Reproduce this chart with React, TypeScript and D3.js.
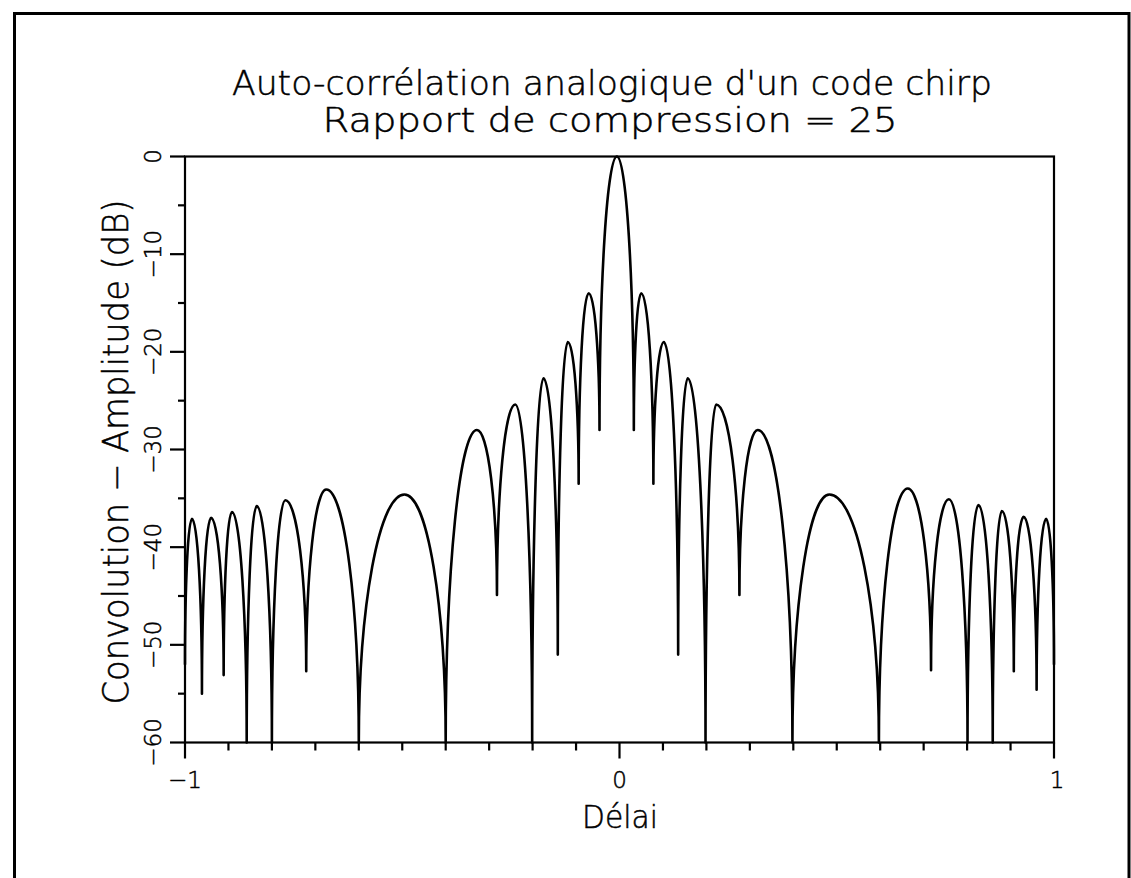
import React from 'react';
import * as d3 from 'd3';

const TITLE_LINE_1 = "Auto-corrélation analogique d'un code chirp";
const TITLE_LINE_2 = 'Rapport de compression = 25';
const X_LABEL = 'Délai';
const Y_LABEL = 'Convolution − Amplitude (dB)';

const X_TICK_VALUES = [-1, 0, 1];
const X_TICK_LABELS = ['−1', '0', '1'];
const Y_TICK_VALUES = [0, -10, -20, -30, -40, -50, -60];
const Y_TICK_LABELS = ['0', '−10', '−20', '−30', '−40', '−50', '−60'];

// Lobe peaks (delay, dB), left to right
const peakDelay = [
  -0.984, -0.94, -0.892, -0.835, -0.769, -0.675, -0.495, -0.328, -0.24, -0.175, -0.119, -0.071,
  -0.006,
  0.05, 0.102, 0.157, 0.2225, 0.318, 0.483, 0.6635, 0.758, 0.826, 0.88, 0.93, 0.982,
];
const peakDb = [
  -37.1, -37.0, -36.4, -35.8, -35.2, -34.1, -34.6, -28.0, -25.4, -22.7, -19.0, -14.0,
  0,
  -14.0, -19.0, -22.7, -25.4, -28.0, -34.6, -34.0, -35.1, -35.7, -36.3, -36.9, -37.1,
];
// Nulls between lobes (plus both ends), left to right
const nullDelay = [
  -1, -0.961, -0.911, -0.858, -0.8, -0.721, -0.6, -0.4, -0.282, -0.201, -0.142, -0.094, -0.046,
  0.033, 0.078, 0.135, 0.198, 0.276, 0.398, 0.597, 0.717, 0.801, 0.859, 0.9075, 0.96, 1,
];
const nullDb = [
  -52, -55.0, -53.1, -60, -60, -52.7, -60, -60, -44.9, -60, -51.0, -33.5, -28.0,
  -28.0, -33.5, -51.0, -60, -44.9, -60, -60, -52.6, -60, -60, -52.7, -54.6, -52,
];

const W = 1131;
const H = 878;
const FONT = "'DejaVu Sans', 'Liberation Sans', sans-serif";

export default function App() {
  const x = d3.scaleLinear().domain([-1, 1]).range([185, 1054]);
  const y = d3.scaleLinear().domain([0, -60]).range([156.5, 742.5]);

  let d = `M${x(nullDelay[0])},${y(nullDb[0])}`;
  for (let i = 0; i < peakDelay.length; i++) {
    const px = x(peakDelay[i]);
    const py = y(peakDb[i]);
    const x0 = x(nullDelay[i]);
    const y0 = y(nullDb[i]);
    const x1 = x(nullDelay[i + 1]);
    const y1 = y(nullDb[i + 1]);
    d += ` A${(px - x0).toFixed(2)},${(y0 - py).toFixed(2)} 0 0 1 ${px.toFixed(2)},${py.toFixed(2)}`;
    d += ` A${(x1 - px).toFixed(2)},${(y1 - py).toFixed(2)} 0 0 1 ${x1.toFixed(2)},${y1.toFixed(2)}`;
  }

  const yTicks = d3.range(0, -61, -5);
  const xTicks = d3.range(-10, 11).map((i) => i / 10);
  const [x0, x1] = x.range();
  const [yTop, yBot] = y.range();

  return (
    <svg
      width={W}
      height={H}
      style={{ position: 'absolute', left: 0, top: 0, background: '#fff' }}
      fontFamily={FONT}
      fontWeight={200}
    >
      <rect x={0} y={0} width={W} height={H} fill="#fff" />
      <rect x={14.5} y={13.5} width={1114.5} height={900} fill="none" stroke="#000" strokeWidth={3} />

      <g stroke="#000" strokeWidth={0.5}>
        {/* title */}
        <text x={612} y={95} textAnchor="middle" fontSize={34} textLength={760} lengthAdjust="spacingAndGlyphs">
          {TITLE_LINE_1}
        </text>
        <text x={610} y={132} textAnchor="middle" fontSize={34} textLength={575} lengthAdjust="spacingAndGlyphs">
          {TITLE_LINE_2}
        </text>

        {Y_TICK_VALUES.map((v, i) => (
          <text
            key={'yl' + v}
            transform={`translate(161,${y(v)}) rotate(-90)`}
            textAnchor="middle"
            fontSize={23}
          >
            {Y_TICK_LABELS[i]}
          </text>
        ))}
        {X_TICK_VALUES.map((v, i) => (
          <text key={'xl' + v} x={x(v) + (v === 1 ? 3 : 0)} y={788} textAnchor="middle" fontSize={23}>
            {X_TICK_LABELS[i]}
          </text>
        ))}

        {/* axis labels */}
        <text x={620} y={828} textAnchor="middle" fontSize={32} textLength={76} lengthAdjust="spacingAndGlyphs">
          {X_LABEL}
        </text>
        <text
          transform={`translate(128,452) rotate(-90)`}
          textAnchor="middle"
          fontSize={35}
          textLength={505}
          lengthAdjust="spacingAndGlyphs"
        >
          {Y_LABEL}
        </text>
      </g>

      {/* frame */}
      <rect x={x0} y={yTop} width={x1 - x0} height={yBot - yTop} fill="none" stroke="#000" strokeWidth={2.2} />

      {/* y ticks */}
      {yTicks.map((v) => {
        const major = v % 10 === 0;
        return (
          <line key={'yt' + v} x1={x0 - (major ? 15 : 7)} x2={x0} y1={y(v)} y2={y(v)} stroke="#000" strokeWidth={2.2} />
        );
      })}

      {/* x ticks */}
      {xTicks.map((v) => {
        const major = Math.abs(v) < 1e-9 || Math.abs(Math.abs(v) - 1) < 1e-9;
        return (
          <line key={'xt' + v} x1={x(v)} x2={x(v)} y1={yBot} y2={yBot + (major ? 16 : 8)} stroke="#000" strokeWidth={2.2} />
        );
      })}

      {/* curve */}
      <path d={d} fill="none" stroke="#000" strokeWidth={2.6} strokeLinejoin="round" strokeLinecap="round" />
    </svg>
  );
}
